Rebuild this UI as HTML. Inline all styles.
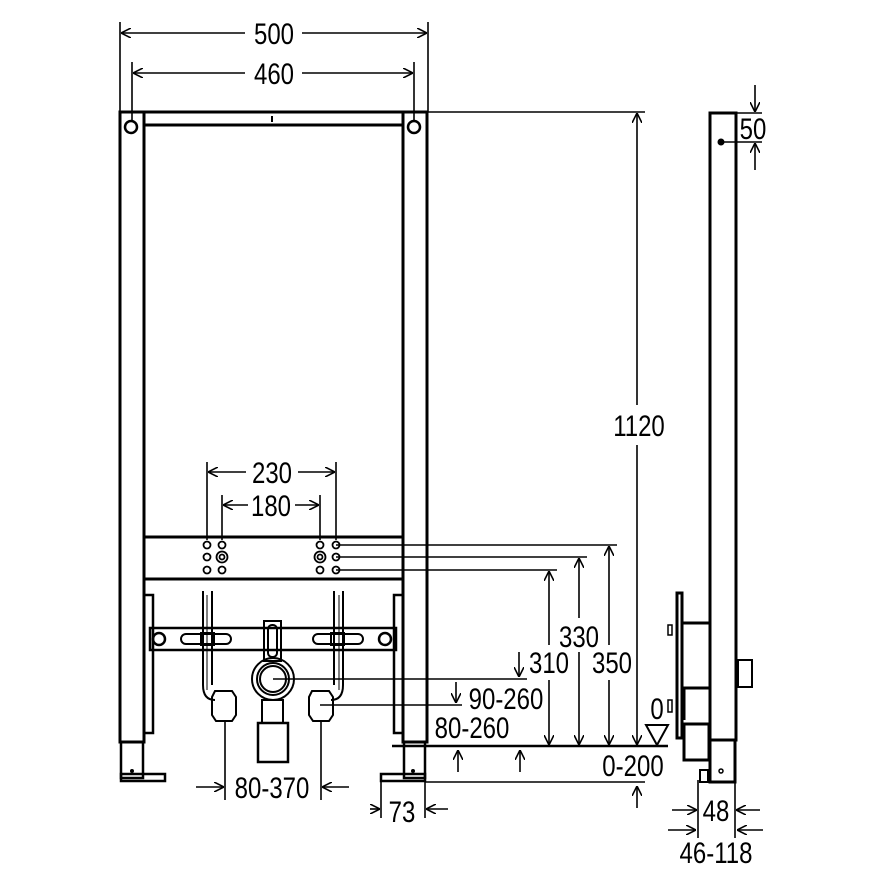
<!DOCTYPE html>
<html><head><meta charset="utf-8"><style>
html,body{margin:0;padding:0;background:#fff;}
svg{display:block;}
text{font-family:"Liberation Sans",sans-serif;font-size:30px;fill:#000;transform-box:fill-box;transform-origin:center;transform:scaleX(0.8);}
</style></head><body>
<svg width="886" height="886" viewBox="0 0 886 886" xmlns="http://www.w3.org/2000/svg">
<defs>
<marker id="a" viewBox="0 0 10 10" refX="10" refY="5" markerWidth="10" markerHeight="10" orient="auto-start-reverse" markerUnits="userSpaceOnUse">
<path d="M0,0 L10,5 L0,10" fill="none" stroke="#000" stroke-width="1.6"/></marker>
</defs>
<g fill="none" stroke="#000">
<g stroke-width="3">
<rect x="120" y="112" width="24" height="630"/>
<rect x="403" y="112" width="24" height="630"/>
<line x1="144" y1="112" x2="403" y2="112"/>
<line x1="144" y1="125" x2="403" y2="125"/>
<rect x="144" y="537" width="259" height="42"/>
</g>
<circle cx="131" cy="127" r="6" stroke-width="2.5"/>
<circle cx="414" cy="127" r="6" stroke-width="2.5"/>
<line x1="272" y1="116" x2="272" y2="122" stroke-width="2"/>
<g stroke-width="1.8">
<circle cx="207" cy="545" r="3.5"/><circle cx="222" cy="545" r="3.5"/>
<circle cx="207" cy="557" r="3.5"/><circle cx="222" cy="557" r="5.5"/><circle cx="222" cy="557" r="2.5"/>
<circle cx="207" cy="570" r="3.5"/><circle cx="222" cy="570" r="3.5"/>
<circle cx="320" cy="545" r="3.5"/><circle cx="336" cy="545" r="3.5"/>
<circle cx="320" cy="557" r="5.5"/><circle cx="320" cy="557" r="2.5"/><circle cx="336" cy="557" r="3.5"/>
<circle cx="320" cy="570" r="3.5"/><circle cx="336" cy="570" r="3.5"/>
</g>
<g stroke-width="2.5">
<rect x="121" y="742" width="22" height="36"/>
<rect x="121" y="774" width="44" height="7"/>
<rect x="404" y="742" width="21" height="36"/>
<rect x="381" y="774" width="44" height="7"/>
</g>
<circle cx="132" cy="771" r="1.5" fill="#000"/><circle cx="413" cy="771" r="1.5" fill="#000"/>
<g stroke-width="2.5">
<path d="M145,595 H153 V733 H145"/>
<path d="M402,595 H394 V733 H402"/>
<rect x="150" y="628" width="246" height="22"/>
</g>
<circle cx="159" cy="639" r="6" stroke-width="2.5"/><circle cx="385" cy="639" r="6" stroke-width="2.5"/>
<g stroke-width="2">
<rect x="181" y="634" width="50" height="10" rx="5"/>
<rect x="313" y="634" width="50" height="10" rx="5"/>
<path d="M203,591 V685 Q203,700 215,700 M212,591 V685"/>
<path d="M343,591 V685 Q343,700 331,700 M334,591 V685"/>
<line x1="207" y1="595" x2="207" y2="690" stroke-width="1"/>
<line x1="339" y1="595" x2="339" y2="690" stroke-width="1"/>
<rect x="201" y="633" width="13" height="12"/>
<rect x="331" y="633" width="13" height="12"/>
<path d="M215,691 H232 L236,697 V715 L232,721 H216 L212,715 V697 Z"/>
<path d="M312,691 H329 L333,697 V715 L329,721 H313 L309,715 V697 Z"/>
<rect x="264" y="621" width="17" height="40"/>
<rect x="268" y="625" width="9" height="32" rx="4"/>
<circle cx="273" cy="679" r="21"/><circle cx="273" cy="679" r="16"/><circle cx="273" cy="679" r="13"/>
<rect x="262" y="700" width="21" height="23"/>
<rect x="258" y="723" width="30" height="39" stroke-width="2.5"/>
</g>
<g stroke-width="3">
<rect x="710" y="113" width="26" height="627"/>
<rect x="677" y="593" width="5" height="145"/>
<path d="M682,623 H709 M682,688 H709 M684,688 V720 M682,724 H709 V760 H684 V724"/>
<rect x="710" y="740" width="25" height="42"/>
<rect x="738" y="660" width="14" height="27" stroke-width="2"/>
</g>
<circle cx="721" cy="771" r="2" stroke-width="1.5"/>
<rect x="700" y="770" width="8" height="12" stroke-width="2"/>
<rect x="668" y="625" width="4" height="10" stroke-width="1.5"/>
<rect x="668" y="700" width="4" height="12" stroke-width="1.5"/>
<g stroke-width="1.6">
<line x1="120" y1="22" x2="120" y2="112"/><line x1="428" y1="22" x2="428" y2="112"/>
<line x1="121" y1="33" x2="245" y2="33" marker-start="url(#a)"/><line x1="302" y1="33" x2="427" y2="33" marker-end="url(#a)"/>
<line x1="132" y1="62" x2="132" y2="122"/><line x1="414" y1="62" x2="414" y2="122"/>
<line x1="133" y1="73" x2="245" y2="73" marker-start="url(#a)"/><line x1="302" y1="73" x2="413" y2="73" marker-end="url(#a)"/>
<line x1="428" y1="112" x2="645" y2="112"/>
<line x1="637" y1="113" x2="637" y2="405" marker-start="url(#a)"/><line x1="637" y1="445" x2="637" y2="745" marker-end="url(#a)"/>
<line x1="207" y1="462" x2="207" y2="540"/><line x1="336" y1="462" x2="336" y2="540"/>
<line x1="208" y1="472" x2="246" y2="472" marker-start="url(#a)"/><line x1="298" y1="472" x2="335" y2="472" marker-end="url(#a)"/>
<line x1="222" y1="495" x2="222" y2="540"/><line x1="320" y1="495" x2="320" y2="540"/>
<line x1="223" y1="505" x2="248" y2="505" marker-start="url(#a)"/><line x1="295" y1="505" x2="319" y2="505" marker-end="url(#a)"/>
<line x1="336" y1="545" x2="617" y2="545"/><line x1="336" y1="557" x2="587" y2="557"/><line x1="336" y1="570" x2="557" y2="570"/>
<line x1="609" y1="546" x2="609" y2="645" marker-start="url(#a)"/><line x1="609" y1="680" x2="609" y2="745" marker-end="url(#a)"/>
<line x1="579" y1="558" x2="579" y2="618" marker-start="url(#a)"/><line x1="579" y1="652" x2="579" y2="745" marker-end="url(#a)"/>
<line x1="549" y1="571" x2="549" y2="645" marker-start="url(#a)"/><line x1="549" y1="680" x2="549" y2="745" marker-end="url(#a)"/>
<line x1="273" y1="679" x2="527" y2="679"/><line x1="320" y1="705" x2="462" y2="705"/>
<line x1="519" y1="652" x2="519" y2="677" marker-end="url(#a)"/>
<line x1="456" y1="682" x2="456" y2="703" marker-end="url(#a)"/>
<line x1="392" y1="746" x2="668" y2="746" stroke-width="2.5"/>
<line x1="425" y1="782" x2="645" y2="782"/>
<line x1="458" y1="772" x2="458" y2="750" marker-end="url(#a)"/>
<line x1="520" y1="772" x2="520" y2="750" marker-end="url(#a)"/>
<line x1="637" y1="808" x2="637" y2="786" marker-end="url(#a)"/>
<line x1="225" y1="720" x2="225" y2="800"/><line x1="321" y1="720" x2="321" y2="800"/>
<line x1="196" y1="787" x2="224" y2="787" marker-end="url(#a)"/><line x1="349" y1="787" x2="322" y2="787" marker-end="url(#a)"/>
<line x1="381" y1="781" x2="381" y2="818"/><line x1="425" y1="781" x2="425" y2="818"/>
<line x1="370" y1="809" x2="380" y2="809" marker-end="url(#a)"/><line x1="448" y1="809" x2="426" y2="809" marker-end="url(#a)"/>
<line x1="698" y1="780" x2="698" y2="838"/><line x1="735" y1="780" x2="735" y2="838"/>
<line x1="672" y1="810" x2="697" y2="810" marker-end="url(#a)"/><line x1="760" y1="810" x2="736" y2="810" marker-end="url(#a)"/>
<line x1="668" y1="830" x2="696" y2="830" marker-end="url(#a)"/><line x1="763" y1="830" x2="737" y2="830" marker-end="url(#a)"/>
<line x1="710" y1="113" x2="762" y2="113"/><line x1="722" y1="142" x2="762" y2="142"/>
<line x1="755" y1="85" x2="755" y2="112" marker-end="url(#a)"/><line x1="755" y1="170" x2="755" y2="143" marker-end="url(#a)"/>
</g>
<circle cx="721" cy="142" r="3" fill="#000"/>
<path d="M646,725 H668 L657,745 Z" stroke-width="2"/>
</g>
<text x="274" y="44" text-anchor="middle">500</text>
<text x="274" y="84" text-anchor="middle">460</text>
<text x="639" y="436" text-anchor="middle">1120</text>
<text x="272" y="483" text-anchor="middle">230</text>
<text x="271" y="516" text-anchor="middle">180</text>
<text x="579" y="647" text-anchor="middle">330</text>
<text x="549" y="673" text-anchor="middle">310</text>
<text x="612" y="673" text-anchor="middle">350</text>
<text x="506" y="709" text-anchor="middle">90-260</text>
<text x="472" y="738" text-anchor="middle">80-260</text>
<text x="657" y="719" text-anchor="middle">0</text>
<text x="633" y="776" text-anchor="middle">0-200</text>
<text x="272" y="798" text-anchor="middle">80-370</text>
<text x="402" y="822" text-anchor="middle">73</text>
<text x="716" y="821" text-anchor="middle">48</text>
<text x="716" y="863" text-anchor="middle">46-118</text>
<text x="753" y="139" text-anchor="middle">50</text>
</svg>
</body></html>
